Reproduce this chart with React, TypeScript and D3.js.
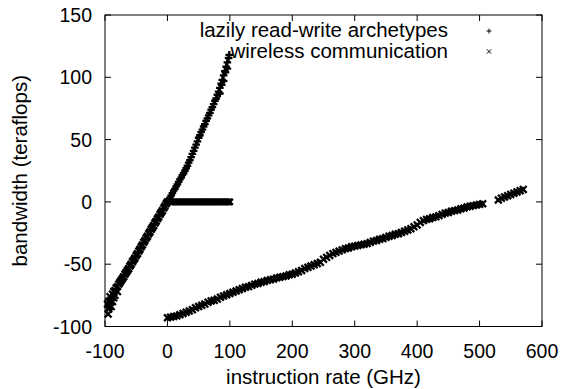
import * as d3 from 'd3'

// chart geometry (px)
const W = 569
const H = 389
const margin = { top: 15, right: 27, bottom: 62.5, left: 105 }

const X_TICKS = [-100, 0, 100, 200, 300, 400, 500, 600]
const Y_TICKS = [-100, -50, 0, 50, 100, 150]

// "lazily read-write archetypes" (+): steep rising run, 0..100 GHz
const archX = [0, 2, 4, 6, 8, 10, 12, 14, 16, 18, 20, 22, 24, 26, 28, 30, 32, 34, 36, 38, 40, 42, 44, 46, 48, 50, 52, 54, 56, 58, 60, 62, 64, 66, 68, 70, 72, 74, 76, 78, 80, 82, 84, 86, 88, 90, 92, 94, 96, 98, 99, 96, 93, 90, 87, 84]
const archY = [0, 2, 3.5, 5, 7, 9, 10.5, 12.5, 14, 16, 18, 19.5, 21.5, 23, 25, 27, 29, 31.5, 33.5, 36, 38.5, 41, 43.5, 46, 48.5, 51.5, 53.5, 56, 58, 60.5, 62.5, 65, 67, 69.5, 71.5, 74, 76, 78.5, 81, 83, 86, 88.5, 91.5, 95, 98, 101.5, 105, 108.5, 112, 115.5, 118, 107, 104, 97, 94, 87]

// "wireless communication" (x): lower steep run
const wlLowX = [-96, -95, -94, -94, -93, -92, -92, -91, -90, -90, -88, -88, -86, -86, -84, -84, -82, -80, -80, -78, -76, -74, -72, -70, -68, -66, -64, -62, -60, -58, -56, -54, -52, -50, -48, -46, -44, -42, -40, -38, -36, -34, -32, -30, -28, -26, -24, -22, -20, -18, -16, -14, -12, -10, -8, -6, -4, -2, 0]
const wlLowY = [-82, -90, -86, -80, -84, -81, -76, -79, -77, -84, -74, -80, -72, -77, -71, -75, -69, -68, -72, -66, -64.5, -63, -61.5, -60, -58, -56.5, -55, -53.5, -51.5, -50, -48, -46.5, -45, -43, -41.5, -39.5, -38, -36, -34.5, -32.5, -31, -29, -27.5, -25.5, -24, -22, -20.5, -19, -17, -15.5, -13.5, -12, -10, -8.5, -7, -5, -3.5, -1.5, 0]

// flat run at zero
const wlFlatX = [5, 8, 11, 14, 17, 20, 23, 26, 29, 32, 35, 38, 41, 44, 47, 50, 53, 56, 59, 62, 65, 68, 71, 74, 77, 80, 83, 86, 89, 92, 95, 98, 100]
const wlFlatY = [0, 0, 0, 0, 0, 0, 0, 0, 0, 0, 0, 0, 0, 0, 0, 0, 0, 0, 0, 0, 0, 0, 0, 0, 0, 0, 0, 0, 0, 0, 0, 0, 0]

// long shallow run
const wlLongX = [0, 5, 10, 15, 20, 25, 30, 35, 40, 45, 50, 55, 60, 65, 70, 75, 80, 85, 90, 95, 100, 105, 110, 115, 120, 125, 130, 135, 140, 145, 150, 155, 160, 165, 170, 175, 180, 185, 190, 195, 200, 205, 210, 215, 220, 225, 230, 235, 240, 245, 250, 255, 260, 265, 270, 275, 280, 285, 290, 295, 300, 305, 310, 315, 320, 325, 330, 335, 340, 345, 350, 355, 360, 365, 370, 375, 380, 385, 390, 395, 400, 405, 410, 415, 420, 425, 430, 435, 440, 445, 450, 455, 460, 465, 470, 475, 480, 485, 490, 495, 500, 505, 530, 535, 540, 545, 550, 555, 560, 565, 570]
const wlLongY = [-93, -92.5, -92, -91.5, -90.5, -89.5, -88.5, -87.5, -86.5, -85, -84, -83, -82, -80.5, -79.5, -79, -78, -76.5, -75.5, -74.5, -73.5, -72.5, -71.5, -70.5, -69.5, -68.5, -68, -67, -66, -65.5, -64.5, -64, -63, -62.5, -62, -61, -60.5, -60, -59.5, -58.5, -58, -57, -56, -55, -53.5, -52.5, -51.5, -50.5, -49.5, -48.5, -46, -44.5, -43, -41.5, -40.5, -39.5, -38.5, -37.5, -37, -36, -35.5, -35, -34.5, -34, -33.5, -32.5, -31.5, -31, -30, -29.5, -28.5, -27.5, -27, -26, -25.5, -24.5, -23.5, -22.5, -21.5, -20, -18.5, -16.5, -15, -14, -13.5, -12.5, -12, -11, -10, -9, -8.5, -7.5, -7, -6.5, -5.5, -5, -4, -3.5, -3, -2.5, -2, -1.5, 1.5, 3, 4, 5, 6, 7, 8, 9, 10]

const FONT = '"Liberation Sans", Arial, Helvetica, sans-serif'

function plusPath(x: number, y: number, s: number) {
  return `M${x - s},${y}H${x + s}M${x},${y - s}V${y + s}`
}
function crossPath(x: number, y: number, s: number) {
  return `M${x - s},${y - s}L${x + s},${y + s}M${x - s},${y + s}L${x + s},${y - s}`
}

export default function App() {
  const x = d3.scaleLinear().domain([-100, 600]).range([margin.left, W - margin.right])
  const y = d3.scaleLinear().domain([-100, 150]).range([H - margin.bottom, margin.top])
  const x0 = margin.left, x1 = W - margin.right
  const y0 = H - margin.bottom, y1 = margin.top
  const tick = 6

  const plusD = archX.map((v, i) => plusPath(x(v), y(archY[i]), 3.8)).join('')
  const crossD = [
    ...wlLowX.map((v, i) => crossPath(x(v), y(wlLowY[i]), 3.4)),
    ...wlFlatX.map((v, i) => crossPath(x(v), y(wlFlatY[i]), 3)),
    ...wlLongX.map((v, i) => crossPath(x(v), y(wlLongY[i]), 3.4)),
  ].join('')

  return (
    <svg width={W} height={H} style={{ position: 'absolute', left: 0, top: 0, background: '#fff' }}>
      <rect x={0} y={0} width={W} height={H} fill="#fff" />

      {/* ticks, mirrored on all sides */}
      <g stroke="#000" strokeWidth={1}>
        {X_TICKS.map(t => (
          <g key={'xt' + t}>
            <line x1={x(t)} x2={x(t)} y1={y0} y2={y0 - tick} />
            <line x1={x(t)} x2={x(t)} y1={y1} y2={y1 + tick} />
          </g>
        ))}
        {Y_TICKS.map(t => (
          <g key={'yt' + t}>
            <line x1={x0} x2={x0 + tick} y1={y(t)} y2={y(t)} />
            <line x1={x1} x2={x1 - tick} y1={y(t)} y2={y(t)} />
          </g>
        ))}
      </g>

      <g fontFamily={FONT} fontSize={19.5} fill="#000">
        {X_TICKS.map(t => (
          <text key={'xl' + t} x={x(t)} y={y0 + 31} textAnchor="middle">{t}</text>
        ))}
        {Y_TICKS.map(t => (
          <text key={'yl' + t} x={x0 - 13} y={y(t) + 7} textAnchor="end">{t}</text>
        ))}
      </g>

      <text x={(x0 + x1) / 2} y={384} textAnchor="middle" fontFamily={FONT} fontSize={20.5}>
        instruction rate (GHz)
      </text>
      <text transform={`translate(27,${(y0 + y1) / 2}) rotate(-90)`} textAnchor="middle" fontFamily={FONT} fontSize={20.5}>
        bandwidth (teraflops)
      </text>

      {/* data */}
      <path d={crossD} stroke="#000" strokeWidth={2.3} fill="none" />
      <path d={plusD} stroke="#000" strokeWidth={2.3} fill="none" />

      {/* legend */}
      <g fontFamily={FONT} fontSize={20.5}>
        <text x={448} y={37} textAnchor="end">lazily read-write archetypes</text>
        <text x={448} y={57.5} textAnchor="end">wireless communication</text>
      </g>
      <path d={plusPath(489, 31, 2.5)} stroke="#000" strokeWidth={1} fill="none" />
      <path d={crossPath(489, 51.5, 2.2)} stroke="#000" strokeWidth={1} fill="none" />

      {/* frame */}
      <rect x={x0} y={y1} width={x1 - x0} height={y0 - y1} fill="none" stroke="#000" strokeWidth={1} />
    </svg>
  )
}
